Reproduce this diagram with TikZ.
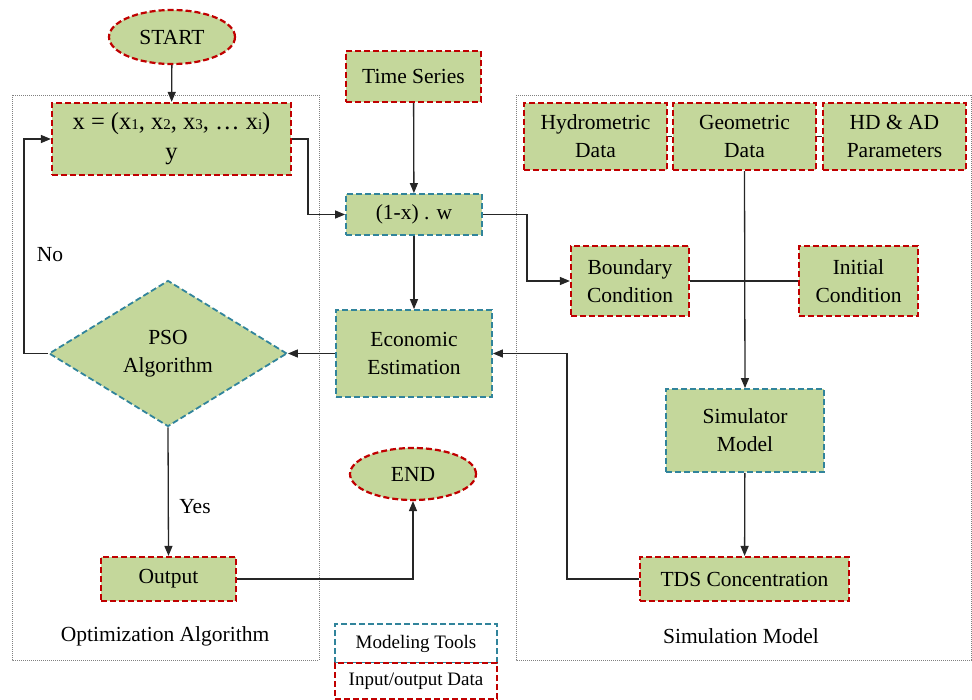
\documentclass[tikz,border=0pt]{standalone}
\usepackage{fontspec}
\setmainfont{Liberation Serif}
\usetikzlibrary{shapes.geometric,arrows.meta}
\definecolor{boxgreen}{HTML}{C4D79B}
\definecolor{iored}{HTML}{C00000}
\definecolor{toolblue}{HTML}{31849B}
\newcommand{\subx}[1]{{\fontsize{15}{15}\selectfont #1}}
\begin{document}
\begin{tikzpicture}[x=1pt,y=-1pt,
  every node/.style={font=\fontsize{21.5}{28}\selectfont, inner sep=0pt, align=center},
  iobox/.style={draw=iored, fill=boxgreen, line width=2.2pt, dash pattern=on 6pt off 3pt},
  toolbox/.style={draw=toolblue, fill=boxgreen, line width=1.8pt, dash pattern=on 6pt off 3pt},
  region/.style={draw=gray, line width=0.9pt, dash pattern=on 1pt off 1pt},
  conn/.style={draw=black!85, line width=1.3pt},
  arr/.style={conn, -{Triangle[length=10pt,width=8pt]}},
  lbl/.style={font=\fontsize{21.5}{26}\selectfont}]
\useasboundingbox (0,0) rectangle (972,700);
% regions
\draw[region] (12,95) rectangle (319,660);
\draw[region] (516,95) rectangle (971.5,660);
% nodes
\node[iobox, ellipse, minimum width=126pt, minimum height=54pt] (start) at (172,37) {START};
\node[iobox, minimum width=239pt, minimum height=72pt, font=\fontsize{24.5}{30}\selectfont] (xb) at (171.5,139)
  {x = (x\subx{1}, x\subx{2}, x\subx{3}, \dots\ x\subx{i})\\y};
\node[iobox, minimum width=135pt, minimum height=51pt] (ts) at (413.5,76.5) {Time Series};
\node[toolbox, minimum width=136pt, minimum height=41pt] (onex) at (414,214.5) {(1-x) . w};
\node[toolbox, minimum width=156pt, minimum height=87pt] (econ) at (414,353.5) {Economic\\Estimation};
\node[toolbox, diamond, shape aspect=1.63, minimum width=238pt, minimum height=146pt] (pso) at (168,353.5) {PSO\\Algorithm};
\node[iobox, minimum width=135pt, minimum height=44pt] (out) at (168.5,579) {Output};
\node[iobox, ellipse, minimum width=126pt, minimum height=52pt] (endn) at (413,474) {END};
\node[toolbox, fill=white, minimum width=162pt, minimum height=39pt, font=\fontsize{19}{23}\selectfont] (leg1) at (416,643.5) {Modeling Tools};
\node[iobox, fill=white, minimum width=162pt, minimum height=36pt, font=\fontsize{19}{23}\selectfont] (leg2) at (416,681) {Input/output Data};
\node[iobox, minimum width=143pt, minimum height=67pt] (hydro) at (595.5,136.5) {Hydrometric\\Data};
\node[iobox, minimum width=143pt, minimum height=67pt] (geo) at (744.5,136.5) {Geometric\\Data};
\node[iobox, minimum width=143pt, minimum height=67pt] (hdad) at (894.5,136.5) {HD \& AD\\Parameters};
\node[iobox, minimum width=118pt, minimum height=70pt] (bc) at (630,281) {Boundary\\Condition};
\node[iobox, minimum width=119pt, minimum height=70pt] (ic) at (858.5,281) {Initial\\Condition};
\node[toolbox, minimum width=158pt, minimum height=83pt] (sim) at (745,430.5) {Simulator\\Model};
\node[iobox, minimum width=209pt, minimum height=44pt] (tds) at (744.5,579) {TDS Concentration};
% labels
\node[lbl] (no) at (50,255) {No};
\node[lbl] (yes) at (195,507) {Yes};
\node[lbl] (optl) at (165,636) {Optimization Algorithm};
\node[lbl] (siml) at (741,636) {Simulation Model};
% connectors
\draw[arr] (start) -- (xb);
\draw[arr] (pso.west) -- (24,353.5) |- (xb.west);
\draw[arr] (xb.east) -- (308,139) |- (onex.west);
\draw[arr] (ts) -- (onex);
\draw[arr] (onex) -- (econ);
\draw[arr] (onex.east) -- (527,214.5) |- (bc.west);
\draw[conn] (bc.east) -- (ic.west);
\draw[conn] (hydro.east) -- (geo.west);
\draw[conn] (geo.east) -- (hdad.west);
\draw[arr] (geo.south) -- (sim.north);
\draw[arr] (sim) -- (tds);
\draw[arr] (tds.west) -- (567,579) |- (econ.east);
\draw[arr] (econ.west) -- (pso.east);
\draw[arr] (pso.south) -- (out.north);
\draw[arr] (out.east) -| (endn.south);
\end{tikzpicture}
\end{document}
